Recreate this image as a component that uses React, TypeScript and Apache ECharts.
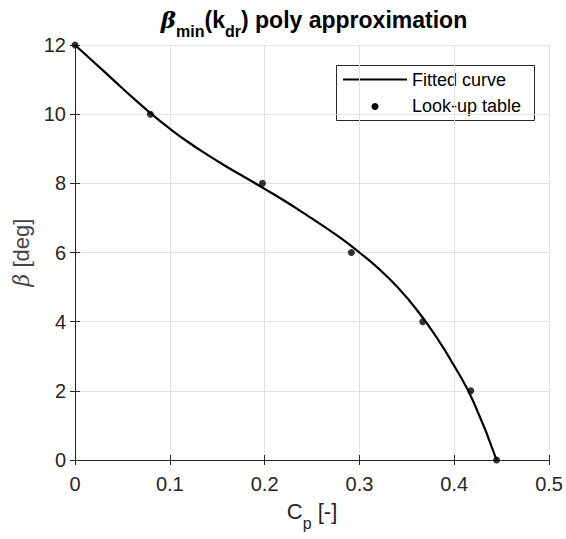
import React, { useEffect, useRef } from "react";
import * as echarts from "echarts";

// Look-up table points (C_p, beta)
const lutCp = [0, 0.0795, 0.1977, 0.2915, 0.3668, 0.4174, 0.4446];
const lutBeta = [12, 10, 8, 6, 4, 2, 0];

// Fitted polynomial curve
const fitCp = [0, 0.02, 0.04, 0.06, 0.08, 0.1, 0.12, 0.14, 0.16, 0.18, 0.2, 0.22, 0.24, 0.26, 0.28, 0.3, 0.32, 0.34, 0.36, 0.38, 0.4, 0.42, 0.4446];
const fitBeta = [12, 11.5, 11.0, 10.5, 10.02, 9.58, 9.18, 8.82, 8.48, 8.16, 7.84, 7.51, 7.16, 6.8, 6.42, 6.0, 5.54, 5.0, 4.36, 3.6, 2.72, 1.7, 0];

const legendNames = ["Fitted curve", "Look-up table"];

const FONT = "'Liberation Sans', Arial, Helvetica, sans-serif";
const AX = "#262626";

export default function App() {
  const ref = useRef<HTMLDivElement>(null);
  useEffect(() => {
    if (!ref.current) return;
    const chart = echarts.init(ref.current, undefined, { renderer: "svg" });
    const tickCommon = {
      show: true,
      inside: true,
      length: 5,
      lineStyle: { color: AX, width: 1 },
    };
    chart.setOption({
      animation: false,
      backgroundColor: "#fff",
      title: {
        text: "{g|β}{s|min}{b|(k}{s|dr}{b|) poly approximation}",
        left: 314,
        top: 8,
        padding: 0,
        textAlign: "center",
        textStyle: {
          rich: {
            g: { fontSize: 23, fontWeight: "bold", fontStyle: "italic", fontFamily: "'DejaVu Serif', serif", color: "#000", lineHeight: 23, verticalAlign: "top" },
            b: { fontSize: 23, fontWeight: "bold", fontFamily: FONT, color: "#000", lineHeight: 23, verticalAlign: "top" },
            s: { fontSize: 16, fontWeight: "bold", fontFamily: FONT, color: "#000", lineHeight: 31, verticalAlign: "bottom" },
          },
        },
      },
      grid: { left: 75, top: 45, right: 13, bottom: 79, containLabel: false },
      xAxis: [
        {
          type: "value",
          min: 0,
          max: 0.5,
          interval: 0.1,
          name: "{m|C}{s|p}{m| [-]}",
          nameLocation: "middle",
          nameGap: 40,
          nameTextStyle: {
            rich: {
              m: { fontSize: 22, fontFamily: FONT, color: AX, lineHeight: 22, verticalAlign: "top" },
              s: { fontSize: 16, fontFamily: FONT, color: AX, lineHeight: 31, verticalAlign: "bottom" },
            },
          },
          axisLine: { show: true, lineStyle: { color: AX, width: 1 } },
          axisTick: tickCommon,
          axisLabel: { fontSize: 20, fontFamily: FONT, color: AX, margin: 14 },
          splitLine: { show: true, lineStyle: { color: "#e3e3e3", width: 1 } },
        },
        {
          type: "value",
          position: "top",
          min: 0,
          max: 0.5,
          interval: 0.1,
          axisLine: { show: true, lineStyle: { color: AX, width: 1 } },
          axisTick: tickCommon,
          axisLabel: { show: false },
          splitLine: { show: false },
        },
      ],
      yAxis: [
        {
          type: "value",
          min: 0,
          max: 12,
          interval: 2,
          name: "{i|β} [deg]",
          nameLocation: "middle",
          nameGap: 42,
          nameTextStyle: {
            fontSize: 22,
            fontFamily: FONT,
            color: "#444",
            rich: { i: { fontSize: 22, fontFamily: "'DejaVu Serif', serif", fontStyle: "italic", color: "#444" } },
          },
          axisLine: { show: true, lineStyle: { color: AX, width: 1 } },
          axisTick: tickCommon,
          axisLabel: { fontSize: 20, fontFamily: FONT, color: AX, margin: 9 },
          splitLine: { show: true, lineStyle: { color: "#e3e3e3", width: 1 } },
        },
        {
          type: "value",
          position: "right",
          min: 0,
          max: 12,
          interval: 2,
          axisLine: { show: true, lineStyle: { color: AX, width: 1 } },
          axisTick: tickCommon,
          axisLabel: { show: false },
          splitLine: { show: false },
        },
      ],
      series: [
        {
          name: legendNames[0],
          type: "line",
          data: fitCp.map((x, i) => [x, fitBeta[i]]),
          smooth: 0.5,
          symbol: "none",
          lineStyle: { color: "#000", width: 2.2 },
          z: 3,
        },
        {
          name: legendNames[1],
          type: "scatter",
          data: lutCp.map((x, i) => [x, lutBeta[i]]),
          symbol: "circle",
          symbolSize: 7,
          itemStyle: { color: "#000" },
          clip: false,
          z: 4,
        },
      ],
      graphic: [
        {
          type: "group",
          z: 100,
          children: [
            { type: "rect", shape: { x: 336.5, y: 65.5, width: 198, height: 55 }, style: { fill: "#fff", stroke: AX, lineWidth: 1 } },
            { type: "line", shape: { x1: 343, y1: 79.5, x2: 407, y2: 79.5 }, style: { stroke: "#000", lineWidth: 2.2 } },
            { type: "circle", shape: { cx: 375, cy: 106.5, r: 3.5 }, style: { fill: "#000" } },
            { type: "text", x: 412, y: 80, style: { text: legendNames[0], fontSize: 18, fontFamily: FONT, fill: "#000", verticalAlign: "middle" } },
            { type: "text", x: 412, y: 106, style: { text: legendNames[1], fontSize: 18, fontFamily: FONT, fill: "#000", verticalAlign: "middle" } },
          ],
        },
      ],
    });
    return () => chart.dispose();
  }, []);
  return <div ref={ref} style={{ position: "absolute", left: 0, top: 0, width: 566, height: 539 }} />;
}
